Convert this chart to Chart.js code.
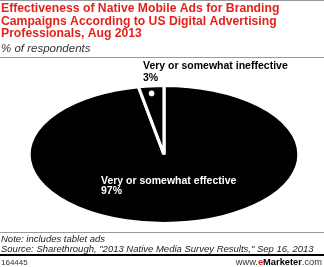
<!DOCTYPE html>
<html>
<head>
<meta charset="utf-8">
<script src="https://cdn.jsdelivr.net/npm/chart.js@4"></script>
<style>
  html, body { margin: 0; padding: 0; background: #fff; }
  #wrap { position: relative; width: 324px; height: 267px; }
</style>
</head>
<body>
<div id="wrap"><canvas id="pie-effectiveness" width="324" height="267"></canvas></div>
<script>
var categories = ['Very or somewhat effective', 'Very or somewhat ineffective'];
var values = [97, 3];
var titleLines = [
  'Effectiveness of Native Mobile Ads for Branding',
  'Campaigns According to US Digital Advertising',
  'Professionals, Aug 2013'
];
var subtitle = '% of respondents';
var noteLines = [
  'Note: includes tablet ads',
  'Source: Sharethrough, "2013 Native Media Survey Results," Sep 16, 2013'
];
var chartId = '164445';

// pie is drawn as a circle, then stretched sideways into an ellipse
var stretchX = 134.5 / 68;

var ellipsePlugin = {
  id: 'ellipse',
  beforeDatasetsDraw: function(chart) {
    var arc = chart.getDatasetMeta(0).data[0];
    var ctx = chart.ctx;
    ctx.save();
    ctx.translate(arc.x, arc.y);
    ctx.scale(stretchX, 1);
    ctx.translate(-arc.x, -arc.y);
  },
  afterDatasetsDraw: function(chart) {
    chart.ctx.restore();
  }
};

var textPlugin = {
  id: 'texts',
  afterDraw: function(chart) {
    var ctx = chart.ctx;
    var meta = chart.getDatasetMeta(0);
    var arc = meta.data[0];
    var small = meta.data[1];
    var cx = arc.x, cy = arc.y;
    var r = arc.outerRadius;

    ctx.save();
    // rules
    ctx.fillStyle = '#999';
    ctx.fillRect(0, 0, 324, 1);
    ctx.fillRect(0, 57, 324, 1);
    ctx.fillRect(0, 232, 324, 1);
    ctx.fillStyle = '#000';
    ctx.fillRect(0, 254, 324, 2);

    // title
    ctx.textBaseline = 'alphabetic';
    ctx.textAlign = 'left';
    ctx.fillStyle = '#e3231b';
    ctx.font = 'bold 12.2px "Liberation Sans", Arial, sans-serif';
    titleLines.forEach(function(t, i) {
      ctx.fillText(t, 1, 12 + i * 12.5);
    });
    ctx.fillStyle = '#333';
    ctx.font = 'italic 11.5px "Liberation Sans", Arial, sans-serif';
    ctx.fillText(subtitle, 1, 52);

    // notes
    ctx.font = 'italic 9.5px "Liberation Sans", Arial, sans-serif';
    ctx.fillStyle = '#222';
    noteLines.forEach(function(t, i) {
      ctx.fillText(t, 1, 241.5 + i * 10);
    });
    ctx.font = '8px "Liberation Sans", Arial, sans-serif';
    ctx.fillStyle = '#333';
    ctx.fillText(chartId, 1, 265);

    // www.eMarketer.com
    var parts = [
      ['www.', '#333', ''],
      ['e', '#e3231b', 'bold '],
      ['Marketer', '#000', 'bold '],
      ['.com', '#333', '']
    ];
    var total = 0;
    parts.forEach(function(p) {
      ctx.font = p[2] + '9.3px "Liberation Sans", Arial, sans-serif';
      total += ctx.measureText(p[0]).width;
    });
    var x = 322 - total;
    parts.forEach(function(p) {
      ctx.font = p[2] + '9.3px "Liberation Sans", Arial, sans-serif';
      ctx.fillStyle = p[1];
      ctx.fillText(p[0], x, 265);
      x += ctx.measureText(p[0]).width;
    });

    // slice labels
    ctx.font = 'bold 10.5px "Liberation Sans", Arial, sans-serif';
    ctx.fillStyle = '#000';
    ctx.fillText(categories[1], cx - 21, cy - 85.5);
    ctx.fillText(values[1] + '%', cx - 21, cy - 74);
    ctx.fillStyle = '#fff';
    ctx.fillText(categories[0], cx - 63, cy + 29);
    ctx.fillText(values[0] + '%', cx - 63, cy + 39.5);

    // marker dot in the small slice
    var mid = (small.startAngle + small.endAngle) / 2;
    var dx = Math.cos(mid) * r * 0.9 * stretchX;
    var dy = Math.sin(mid) * r * 0.9;
    ctx.beginPath();
    ctx.arc(cx + dx - 1, cy + dy, 2.8, 0, Math.PI * 2);
    ctx.fill();
    ctx.restore();
  }
};

new Chart(document.getElementById('pie-effectiveness'), {
  type: 'pie',
  data: {
    labels: categories,
    datasets: [{
      data: values,
      backgroundColor: ['#000000', '#000000'],
      borderColor: '#ffffff',
      borderWidth: 1.6
    }]
  },
  options: {
    responsive: false,
    animation: false,
    events: [],
    layout: {
      padding: { left: 95, right: 91, top: 85, bottom: 43 }
    },
    plugins: {
      legend: { display: false },
      tooltip: { enabled: false },
      title: { display: false }
    }
  },
  plugins: [ellipsePlugin, textPlugin]
});
</script>
</body>
</html>
